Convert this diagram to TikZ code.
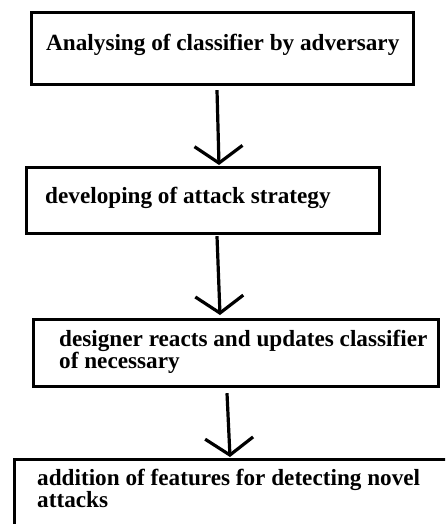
\documentclass[tikz,border=0pt]{standalone}
\usepackage{fontspec}
\setmainfont{Liberation Serif}
\usetikzlibrary{arrows.meta,calc}
\begin{document}
\begin{tikzpicture}[x=1pt,y=-1pt,
  box/.style={draw, line width=3.2pt, rectangle, anchor=north west, inner sep=0pt},
  lbl/.style={anchor=base west, inner sep=0pt, align=left,
    font=\fontsize{23.2}{21.3}\selectfont\bfseries},
  arr/.style={line width=3.2pt, -{Straight Barb[length=17pt, width=48pt, line width=3.2pt]}}]
\useasboundingbox (0,0) rectangle (445,524);
\clip (0,0) rectangle (445,524);
\node[box, minimum width=382pt, minimum height=72pt] (b1) at (30,11) {};
\node[box, minimum width=353pt, minimum height=66pt] (b2) at (25,166) {};
\node[box, minimum width=405pt, minimum height=67pt] (b3) at (32,318) {};
\node[box, minimum width=460pt, minimum height=90pt] (b4) at (13,458) {};
\node[lbl] (t1) at (46,51) {Analysing of classifier by adversary};
\node[lbl] (t2) at (45,203) {developing of attack strategy};
\node[lbl] (t3) at (59,368.5) {designer reacts and updates classifier\\of necessary};
\node[lbl] (t4) at (37,507) {addition of features for detecting novel\\attacks};
\draw[arr] ($(b1.south west)+(187,4)$) -- ($(b2.north west)+(194,-1)$);
\draw[arr] ($(b2.south west)+(192,1)$) -- ($(b3.north west)+(188,-3)$);
\draw[arr] ($(b3.south west)+(195,5)$) -- ($(b4.north west)+(217,-1)$);
\end{tikzpicture}
\end{document}
